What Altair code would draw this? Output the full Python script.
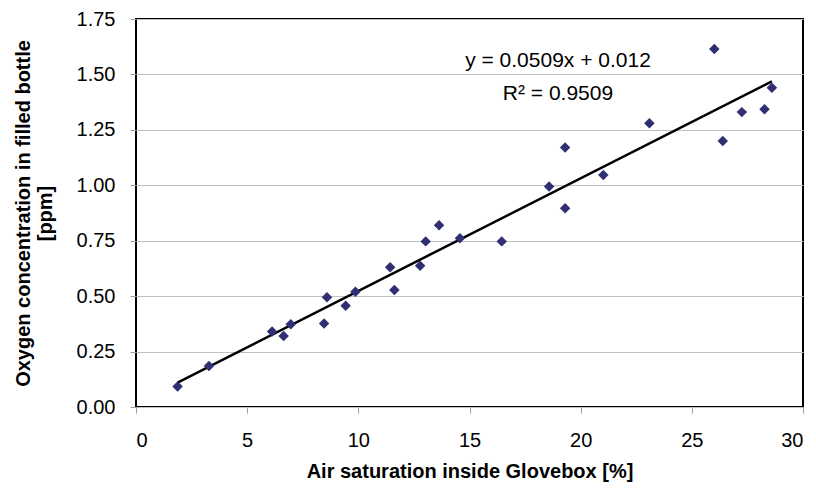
import altair as alt
import pandas as pd

air_saturation = [1.87, 3.28, 6.12, 6.64, 6.96, 8.46, 8.59, 9.43, 9.87, 11.43, 11.62, 12.78, 13.03,
                  13.63, 14.57, 16.45, 18.58, 19.30, 19.30, 21.02, 23.09, 26.01, 26.39, 27.25, 28.27, 28.60]
oxygen_ppm = [0.092, 0.185, 0.34, 0.32, 0.373, 0.377, 0.495, 0.457, 0.52, 0.63, 0.528, 0.637, 0.747,
              0.82, 0.761, 0.747, 0.994, 0.896, 1.17, 1.046, 1.28, 1.615, 1.20, 1.33, 1.343, 1.44]

eq_lines = ["y = 0.0509x + 0.012", "R² = 0.9509"]
eq_x = [18.98, 18.98]
eq_y = [1.56, 1.41]

df = pd.DataFrame({"x": air_saturation, "y": oxygen_ppm})
eq = pd.DataFrame({"t": eq_lines, "x": eq_x, "y": eq_y})

FONT = "Liberation Sans"

xs = alt.Scale(domain=[0, 30], nice=False, zero=False)
ys = alt.Scale(domain=[0, 1.75], nice=False, zero=False)

xax = alt.Axis(values=[0, 5, 10, 15, 20, 25, 30], format="d", grid=False, domain=False,
               tickColor="#a0a0a0", tickSize=6, labelPadding=17, labelFontSize=20,
               labelFont=FONT, labelColor="black", titleFont=FONT, titleFontSize=20,
               titleFontWeight="bold", titleColor="black", titlePadding=11)
yax = alt.Axis(values=[0, 0.25, 0.5, 0.75, 1.0, 1.25, 1.5, 1.75], format=".2f", grid=True,
               gridColor="#c0c0c0", gridWidth=1, domain=False, tickColor="#a0a0a0", tickSize=6,
               labelPadding=15, labelFontSize=20, labelFont=FONT, labelColor="black",
               titleFont=FONT, titleFontSize=20, titleFontWeight="bold", titleColor="black",
               titlePadding=21, titleLineHeight=22)

base = alt.Chart(df)

points = base.mark_point(shape="diamond", filled=True, size=110, color="#302f73", opacity=1).encode(
    x=alt.X("x:Q", scale=xs, axis=xax, title="Air saturation inside Glovebox [%]"),
    y=alt.Y("y:Q", scale=ys, axis=yax, title=["Oxygen concentration in filled bottle", "[ppm]"]),
)

trend = base.transform_regression("x", "y").mark_line(color="black", strokeWidth=2.5).encode(
    x=alt.X("x:Q", scale=xs), y=alt.Y("y:Q", scale=ys)
)

text = alt.Chart(eq).mark_text(font=FONT, fontSize=21, color="black", align="center", baseline="middle").encode(
    x=alt.X("x:Q", scale=xs), y=alt.Y("y:Q", scale=ys), text="t:N"
)

chart = alt.layer(trend, points, text).properties(
    width=667, height=388,
    padding={"left": 128, "top": 11, "right": 5, "bottom": 77},
    autosize="none", background="white",
).configure_view(stroke="black", strokeWidth=2)

chart.save("out.html", embed_options={"renderer": "svg", "actions": False})
